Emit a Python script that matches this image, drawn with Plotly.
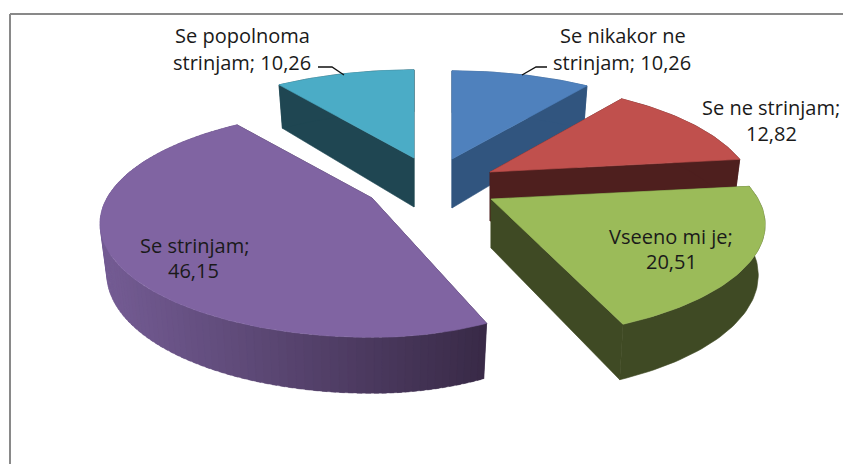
import math
import plotly.graph_objects as go

categories = ["Se nikakor ne strinjam", "Se ne strinjam", "Vseeno mi je", "Se strinjam", "Se popolnoma strinjam"]
values = [10.26, 12.82, 20.51, 46.15, 10.26]
value_labels = ["10,26", "12,82", "20,51", "46,15", "10,26"]

# style / layout of the perspective pie
top_colors = ["#4f81bd", "#c0504d", "#9bbb59", "#8064a2", "#4bacc6"]
wall_colors = ["#31557f", "#4e1f1e", "#3f4a24", None, "#1f4652"]
exploded_hubs = [(452, 159), (490, 172), (491, 199), (372, 198), (414, 158)]
right_stretch = [1.0, 0.975, 1.008, 0.875, 1.0]
draw_order = [4, 0, 1, 3, 2]
RX, RY, PERSP = 265, 108, 0.225
FONT = "Open Sans"
FSIZE = 20

label_lines = [
    [("Se nikakor ne", 623, 35), ("strinjam; 10,26", 622, 62)],
    [("Se ne strinjam;", 771, 107), ("12,82", 771, 133)],
    [("Vseeno mi je;", 671, 236), ("20,51", 671, 261)],
    [("Se strinjam;", 194, 245), ("46,15", 193, 270)],
    [("Se popolnoma", 242, 35), ("strinjam; 10,26", 242, 62)],
]

fig = go.Figure()


def project(i, ang, bottom=False, r=1.0):
    hub = exploded_hubs[i]
    u, v = r * math.sin(ang), r * math.cos(ang)
    w = 1 + PERSP * v
    x, y = RX * u / w, -RY * v / w
    if u > 0:
        x *= right_stretch[i]
    if bottom:
        return hub[0] + x * 0.975, hub[1] + y + 49 - 7 * v
    return hub[0] + x, hub[1] + y


def poly(points, color, lw=0.6):
    fig.add_trace(go.Scatter(
        x=[p[0] for p in points] + [points[0][0]],
        y=[p[1] for p in points] + [points[0][1]],
        mode="lines", fill="toself", fillcolor=color,
        line=dict(color=color, width=lw),
        hoverinfo="skip", showlegend=False,
    ))


def mix(a, b, t):
    return "rgb(%d,%d,%d)" % tuple(round(a[i] + (b[i] - a[i]) * t) for i in range(3))


total = sum(values)
starts = []
acc = 0.0
for val in values:
    starts.append(acc)
    acc += val

for i in draw_order:
    a0 = starts[i] / total * 2 * math.pi
    a1 = (starts[i] + values[i]) / total * 2 * math.pi
    hub = exploded_hubs[i]
    n = max(30, int(values[i] * 3))
    angs = [a0 + (a1 - a0) * k / n for k in range(n + 1)]
    wall = wall_colors[i]
    hub_bottom = project(i, 0, True, 0)
    for a in (a0, a1):
        poly([hub, project(i, a), project(i, a, True), hub_bottom], wall if wall else "#3a2b48")
    if wall:
        poly([project(i, a) for a in angs] + [project(i, a, True) for a in reversed(angs)], wall)
    else:
        # fine shading of the side wall, left (lighter) to right (darker)
        m = 110
        for k in range(m):
            p, q = a1 - (a1 - a0) * k / m, a1 - (a1 - a0) * (k + 1.6) / m
            q = max(q, a0)
            t = (project(i, p)[0] - 100) / 387
            c = mix((116, 92, 148), (56, 41, 70), min(1, max(0, t)))
            sub = [p + (q - p) * s / 3 for s in range(4)]
            poly([project(i, a) for a in sub] + [project(i, a, True) for a in reversed(sub)], c, 0.3)
    poly([hub] + [project(i, a) for a in angs], top_colors[i])

leaders = [[(318, 67), (332, 67), (344, 75)], [(522, 75), (536, 67), (547, 67)]]
for pts in leaders:
    fig.add_trace(go.Scatter(x=[p[0] for p in pts], y=[p[1] for p in pts], mode="lines",
                             line=dict(color="#111111", width=1.3), hoverinfo="skip", showlegend=False))

annotations = []
for lines in label_lines:
    for text, x, y in lines:
        annotations.append(dict(text=text, x=x, y=y, xref="x", yref="y", showarrow=False,
                                xanchor="center", yanchor="middle",
                                font=dict(family=FONT, size=FSIZE, color="#1a1a1a")))

fig.update_layout(
    width=843, height=464, margin=dict(l=0, r=0, t=0, b=0),
    paper_bgcolor="white", plot_bgcolor="white", showlegend=False,
    xaxis=dict(range=[0, 843], visible=False, fixedrange=True),
    yaxis=dict(range=[464, 0], visible=False, fixedrange=True),
    annotations=annotations,
    shapes=[
        dict(type="line", x0=10, x1=10, y0=14, y1=464, line=dict(color="#898989", width=2)),
        dict(type="line", x0=10, x1=843, y0=14, y1=14, line=dict(color="#898989", width=2)),
    ],
)
fig.write_html("out.html", config={"displayModeBar": False},
               post_script="document.body.style.margin='0';")
